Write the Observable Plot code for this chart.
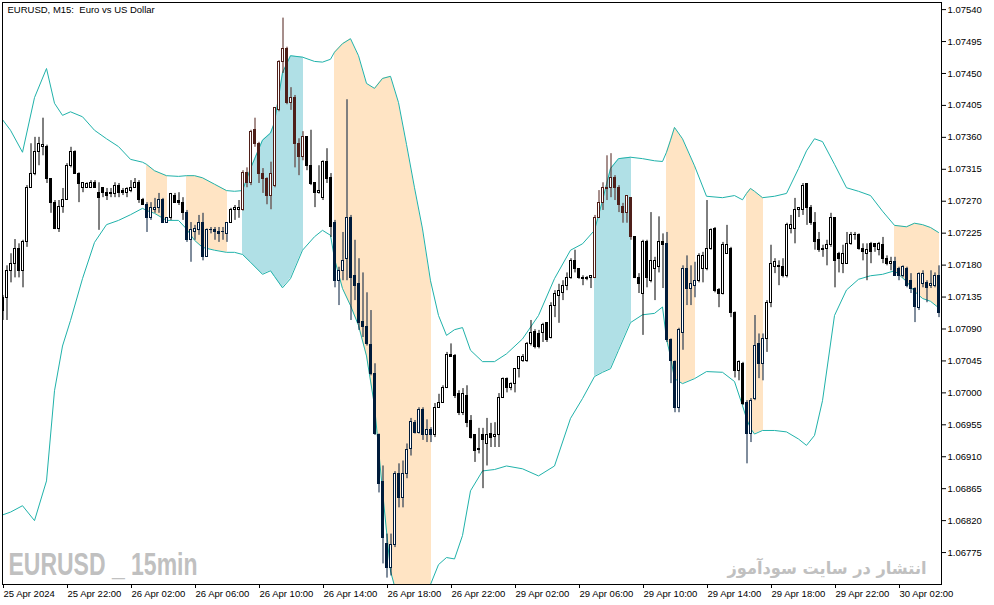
<!DOCTYPE html>
<html><head><meta charset="utf-8">
<script src="https://cdn.jsdelivr.net/npm/d3@7"></script>
<script src="https://cdn.jsdelivr.net/npm/@observablehq/plot@0.6"></script>
<style>body{margin:0;background:#fff}</style>
</head><body><div id="chart"></div>
<script>
const open = [
1.07134,1.07133,1.07172,1.07182,1.07203,1.07172,1.07212,1.07289,1.07309,1.07339,
1.07346,1.07347,1.07302,1.07268,1.07231,1.07262,1.07272,1.07320,1.07340,1.07309,
1.07289,1.07289,1.07289,1.07296,1.07282,1.07288,1.07281,1.07281,1.07280,1.07292,
1.07284,1.07281,1.07284,1.07289,1.07296,1.07272,1.07265,1.07246,1.07258,1.07261,
1.07272,1.07240,1.07246,1.07278,1.07270,1.07268,1.07254,1.07215,1.07227,1.07230,
1.07239,1.07192,1.07230,1.07230,1.07226,1.07227,1.07224,1.07239,1.07257,1.07258,
1.07257,1.07310,1.07295,1.07370,1.07351,1.07309,1.07302,1.07278,1.07292,1.07398,
1.07466,1.07485,1.07409,1.07416,1.07351,1.07332,1.07360,1.07319,1.07295,1.07281,
1.07274,1.07325,1.07303,1.07240,1.07158,1.07172,1.07189,1.07247,1.07165,1.07154,
1.07100,1.07093,1.07068,1.07027,1.06941,1.06875,1.06787,1.06753,1.06785,1.06886,
1.06852,1.06886,1.06921,1.06957,1.06944,1.06976,1.06940,1.06948,1.06940,1.06979,
1.06986,1.07007,1.07054,1.07052,1.06999,1.06971,1.06995,1.06961,1.06940,1.06921,
1.06940,1.06928,1.06942,1.06938,1.06940,1.06993,1.07020,1.07007,1.07013,1.07034,
1.07045,1.07045,1.07069,1.07086,1.07083,1.07085,1.07098,1.07078,1.07123,1.07137,
1.07141,1.07150,1.07162,1.07186,1.07174,1.07162,1.07160,1.07162,1.07162,1.07247,
1.07268,1.07287,1.07289,1.07303,1.07289,1.07262,1.07253,1.07274,1.07219,1.07162,
1.07140,1.07212,1.07158,1.07175,1.07177,1.07212,1.07210,1.07074,1.07043,1.06978,
1.07085,1.07174,1.07147,1.07151,1.07158,1.07175,1.07175,1.07203,1.07231,1.07145,
1.07140,1.07196,1.07203,1.07112,1.07031,1.07041,1.06986,1.06942,1.06992,1.07069,
1.07041,1.07076,1.07127,1.07177,1.07179,1.07177,1.07164,1.07231,1.07231,1.07257,
1.07257,1.07294,1.07261,1.07239,1.07215,1.07201,1.07203,1.07208,1.07246,1.07195,
1.07182,1.07182,1.07210,1.07222,1.07223,1.07203,1.07196,1.07210,1.07210,1.07201,
1.07208,1.07188,1.07182,1.07184,1.07175,1.07165,1.07175,1.07158,1.07147,1.07120,
1.07154,1.07155,1.07151,1.07151,1.07165];
const high = [
1.07137,1.07179,1.07196,1.07216,1.07210,1.07215,1.07292,1.07351,1.07360,1.07360,
1.07387,1.07349,1.07302,1.07271,1.07271,1.07288,1.07323,1.07346,1.07341,1.07310,
1.07296,1.07296,1.07299,1.07299,1.07296,1.07289,1.07288,1.07288,1.07296,1.07295,
1.07288,1.07289,1.07299,1.07302,1.07299,1.07274,1.07268,1.07268,1.07274,1.07281,
1.07274,1.07247,1.07281,1.07281,1.07282,1.07275,1.07257,1.07240,1.07236,1.07250,
1.07253,1.07231,1.07233,1.07233,1.07233,1.07233,1.07240,1.07260,1.07264,1.07271,
1.07313,1.07317,1.07370,1.07387,1.07353,1.07316,1.07303,1.07325,1.07402,1.07468,
1.07528,1.07487,1.07430,1.07419,1.07358,1.07368,1.07361,1.07370,1.07296,1.07320,
1.07327,1.07344,1.07309,1.07243,1.07177,1.07226,1.07413,1.07250,1.07215,1.07189,
1.07169,1.07141,1.07116,1.07041,1.06942,1.06897,1.06801,1.06801,1.06889,1.06900,
1.06904,1.06928,1.06964,1.06961,1.06979,1.06979,1.06962,1.06951,1.06985,1.06998,
1.07010,1.07057,1.07069,1.07054,1.07003,1.07006,1.07010,1.06968,1.06940,1.06950,
1.06950,1.06964,1.06957,1.06958,1.06999,1.07021,1.07021,1.07014,1.07034,1.07051,
1.07054,1.07071,1.07102,1.07089,1.07088,1.07098,1.07099,1.07127,1.07144,1.07153,
1.07158,1.07169,1.07189,1.07201,1.07175,1.07165,1.07164,1.07165,1.07250,1.07285,
1.07296,1.07334,1.07337,1.07306,1.07292,1.07267,1.07278,1.07275,1.07219,1.07168,
1.07215,1.07215,1.07254,1.07191,1.07248,1.07224,1.07226,1.07076,1.07045,1.07091,
1.07179,1.07193,1.07179,1.07184,1.07196,1.07198,1.07271,1.07231,1.07233,1.07147,
1.07212,1.07236,1.07205,1.07114,1.07045,1.07043,1.06989,1.06992,1.07109,1.07083,
1.07083,1.07130,1.07208,1.07189,1.07186,1.07189,1.07239,1.07250,1.07274,1.07261,
1.07295,1.07295,1.07264,1.07254,1.07226,1.07208,1.07215,1.07253,1.07247,1.07198,
1.07208,1.07226,1.07226,1.07226,1.07224,1.07210,1.07210,1.07212,1.07210,1.07212,
1.07219,1.07193,1.07191,1.07191,1.07177,1.07179,1.07177,1.07168,1.07148,1.07169,
1.07172,1.07158,1.07172,1.07169,1.07179];
const low = [
1.07102,1.07102,1.07155,1.07162,1.07162,1.07148,1.07205,1.07288,1.07306,1.07320,
1.07334,1.07295,1.07253,1.07230,1.07226,1.07253,1.07271,1.07317,1.07308,1.07268,
1.07282,1.07288,1.07288,1.07288,1.07229,1.07275,1.07271,1.07275,1.07275,1.07275,
1.07278,1.07275,1.07282,1.07288,1.07267,1.07264,1.07226,1.07243,1.07253,1.07253,
1.07239,1.07240,1.07243,1.07267,1.07264,1.07243,1.07212,1.07184,1.07215,1.07222,
1.07186,1.07191,1.07224,1.07215,1.07212,1.07215,1.07212,1.07239,1.07243,1.07246,
1.07256,1.07289,1.07292,1.07346,1.07295,1.07281,1.07265,1.07258,1.07289,1.07396,
1.07450,1.07406,1.07398,1.07317,1.07306,1.07327,1.07313,1.07292,1.07261,1.07280,
1.07271,1.07295,1.07219,1.07148,1.07123,1.07158,1.07158,1.07102,1.07130,1.07088,
1.07078,1.07066,1.07024,1.06940,1.06859,1.06759,1.06739,1.06742,1.06782,1.06838,
1.06838,1.06879,1.06911,1.06942,1.06942,1.06933,1.06930,1.06930,1.06937,1.06978,
1.06985,1.07006,1.07050,1.06992,1.06968,1.06968,1.06951,1.06935,1.06902,1.06914,
1.06865,1.06897,1.06923,1.06923,1.06923,1.06992,1.07000,1.07003,1.07000,1.07021,
1.07043,1.07043,1.07066,1.07062,1.07062,1.07071,1.07071,1.07076,1.07106,1.07098,
1.07130,1.07144,1.07160,1.07169,1.07160,1.07151,1.07158,1.07147,1.07161,1.07246,
1.07257,1.07271,1.07275,1.07271,1.07254,1.07239,1.07239,1.07215,1.07161,1.07140,
1.07081,1.07148,1.07155,1.07130,1.07169,1.07147,1.07071,1.07013,1.06972,1.06972,
1.07060,1.07123,1.07123,1.07134,1.07155,1.07155,1.07172,1.07201,1.07141,1.07120,
1.07138,1.07195,1.07106,1.07021,1.07017,1.06982,1.06900,1.06930,1.06989,1.07020,
1.07017,1.07057,1.07120,1.07168,1.07151,1.07162,1.07162,1.07224,1.07210,1.07247,
1.07250,1.07236,1.07236,1.07201,1.07198,1.07191,1.07179,1.07205,1.07148,1.07169,
1.07168,1.07182,1.07208,1.07215,1.07201,1.07186,1.07158,1.07182,1.07198,1.07193,
1.07182,1.07179,1.07172,1.07165,1.07158,1.07162,1.07148,1.07140,1.07099,1.07116,
1.07148,1.07127,1.07147,1.07148,1.07106];
const close = [
1.07116,1.07172,1.07182,1.07203,1.07172,1.07212,1.07289,1.07309,1.07339,1.07351,
1.07349,1.07302,1.07268,1.07231,1.07262,1.07272,1.07320,1.07340,1.07309,1.07294,
1.07295,1.07294,1.07296,1.07289,1.07275,1.07281,1.07278,1.07280,1.07292,1.07281,
1.07281,1.07287,1.07289,1.07296,1.07272,1.07265,1.07246,1.07261,1.07261,1.07272,
1.07240,1.07246,1.07280,1.07268,1.07267,1.07254,1.07215,1.07229,1.07231,1.07239,
1.07192,1.07230,1.07229,1.07227,1.07224,1.07226,1.07239,1.07257,1.07260,1.07261,
1.07310,1.07296,1.07367,1.07351,1.07308,1.07302,1.07278,1.07309,1.07401,1.07466,
1.07485,1.07409,1.07416,1.07351,1.07332,1.07360,1.07320,1.07294,1.07281,1.07285,
1.07325,1.07302,1.07233,1.07158,1.07172,1.07186,1.07247,1.07162,1.07151,1.07099,
1.07093,1.07069,1.07027,1.06942,1.06872,1.06796,1.06753,1.06785,1.06886,1.06852,
1.06886,1.06920,1.06959,1.06944,1.06976,1.06940,1.06948,1.06940,1.06979,1.06986,
1.07007,1.07054,1.07051,1.06996,1.06971,1.06998,1.06958,1.06937,1.06918,1.06920,
1.06933,1.06940,1.06937,1.06940,1.06993,1.07020,1.07007,1.07013,1.07033,1.07050,
1.07050,1.07069,1.07085,1.07064,1.07065,1.07095,1.07074,1.07123,1.07140,1.07144,
1.07150,1.07162,1.07186,1.07174,1.07162,1.07160,1.07162,1.07164,1.07247,1.07267,
1.07288,1.07289,1.07303,1.07289,1.07264,1.07254,1.07277,1.07219,1.07162,1.07153,
1.07213,1.07162,1.07186,1.07186,1.07212,1.07209,1.07074,1.07045,1.06978,1.07088,
1.07174,1.07147,1.07154,1.07158,1.07193,1.07193,1.07203,1.07230,1.07144,1.07140,
1.07208,1.07208,1.07112,1.07031,1.07043,1.06985,1.06942,1.06989,1.07066,1.07041,
1.07076,1.07127,1.07182,1.07184,1.07177,1.07164,1.07236,1.07236,1.07258,1.07260,
1.07292,1.07260,1.07240,1.07213,1.07201,1.07203,1.07208,1.07246,1.07186,1.07188,
1.07195,1.07210,1.07222,1.07223,1.07203,1.07199,1.07201,1.07199,1.07205,1.07210,
1.07188,1.07182,1.07184,1.07165,1.07164,1.07178,1.07151,1.07147,1.07121,1.07168,
1.07167,1.07148,1.07154,1.07165,1.07112];

// Bollinger band knots (bar index)
const bandIdx = [0,2,5,8,11,13,15,17,20,23,26,29,32,35,36,38,41,44,46,48,50,53,56,58,60,62,65,67,68,70,72,75,78,80,82,83,85,87,89,91,93,95,97,99,101,103,105,107,109,111,113,115,117,120,123,126,130,134,138,142,145,148,150,152,154,157,160,163,165,166,167,168,170,173,176,180,183,185,186,187,188,190,193,196,199,201,203,205,208,211,214,217,220,223,226,228,230,232,234];
const upperBand = [1.07385,1.07370,1.07339,1.07416,1.07457,1.07408,1.07391,1.07396,1.07389,1.07370,
1.07358,1.07347,1.07329,1.07325,1.07322,1.07313,1.07306,1.07305,1.07306,1.07306,
1.07303,1.07294,1.07285,1.07284,1.07285,1.07316,1.07356,1.07366,1.07381,1.07451,
1.07475,1.07473,1.07467,1.07466,1.07470,1.07480,1.07492,1.07499,1.07475,1.07436,
1.07429,1.07443,1.07446,1.07409,1.07350,1.07289,1.07231,1.07158,1.07109,1.07081,
1.07089,1.07092,1.07060,1.07044,1.07044,1.07055,1.07076,1.07109,1.07161,1.07201,
1.07210,1.07229,1.07271,1.07316,1.07330,1.07332,1.07330,1.07327,1.07326,1.07339,
1.07356,1.07374,1.07358,1.07320,1.07277,1.07275,1.07278,1.07272,1.07281,1.07288,
1.07284,1.07275,1.07277,1.07281,1.07316,1.07341,1.07358,1.07354,1.07322,1.07289,
1.07284,1.07278,1.07256,1.07236,1.07234,1.07239,1.07237,1.07233,1.07226];
const lowerBand = [1.06828,1.06832,1.06841,1.06820,1.06876,1.07003,1.07066,1.07102,1.07161,1.07212,
1.07237,1.07243,1.07251,1.07260,1.07257,1.07253,1.07243,1.07243,1.07231,1.07215,
1.07205,1.07201,1.07198,1.07198,1.07195,1.07184,1.07167,1.07172,1.07164,1.07148,
1.07161,1.07201,1.07220,1.07229,1.07222,1.07189,1.07147,1.07123,1.07095,1.07052,
1.06982,1.06862,1.06749,1.06707,1.06686,1.06679,1.06700,1.06730,1.06758,1.06768,
1.06766,1.06799,1.06862,1.06890,1.06892,1.06897,1.06893,1.06883,1.06897,1.06964,
1.06992,1.07023,1.07029,1.07034,1.07060,1.07099,1.07110,1.07112,1.07121,1.07076,
1.07051,1.07020,1.07013,1.07020,1.07030,1.07029,1.07016,1.06982,1.06964,1.06950,
1.06942,1.06947,1.06947,1.06945,1.06935,1.06926,1.06940,1.06989,1.07109,1.07145,
1.07160,1.07165,1.07167,1.07172,1.07157,1.07143,1.07133,1.07129,1.07120];

// shaded zones (bar index ranges)
const shadeStart = [36,46,60,83,148,166,186,223];
const shadeEnd   = [41,56,75,107,157,173,190,234];
const shadeKind  = ["sell","sell","buy","sell","buy","sell","sell","sell"];

const yTicks = [1.07540,1.07495,1.07450,1.07405,1.07360,1.07315,1.07270,1.07225,1.07180,1.07135,1.07090,1.07045,1.07000,1.06955,1.06910,1.06865,1.06820,1.06775];
const xTickIdx = [0,16,32,48,64,80,96,112,128,144,160,176,192,208,224];
const xTickLabels = ["25 Apr 2024","25 Apr 22:00","26 Apr 02:00","26 Apr 06:00","26 Apr 10:00","26 Apr 14:00","26 Apr 18:00","26 Apr 22:00","29 Apr 02:00","29 Apr 06:00","29 Apr 10:00","29 Apr 14:00","29 Apr 18:00","29 Apr 22:00","30 Apr 02:00"];

const titleText = "EURUSD, M15:  Euro vs US Dollar";
const markText = "EURUSD _ 15min";
const siteText = "انتشار در سایت سودآموز";

const shadeFill = {sell:"#FFE4C4", buy:"#B0E0E6"};
const shadeInk = {sell:"#001B3B", buy:"#4F1F19"};

function regionOf(i){
  for (let k=0;k<shadeStart.length;k++) if (i>=shadeStart[k] && i<=shadeEnd[k]) return shadeKind[k];
  return null;
}
const candles = open.map((o,i)=>{
  const r = regionOf(i);
  const col = r ? shadeInk[r] : "#000000";
  const up = close[i] >= o;
  return {i, o, h: high[i], l: low[i], c: close[i], col, fillc: up ? "#ffffff" : col};
});
const bands = bandIdx.map((x,k)=>({x, u: upperBand[k], lo: lowerBand[k]}));
const shades = [];
shadeStart.forEach((s,k)=>{
  const e = shadeEnd[k];
  const pts = bands.filter(b=>b.x>=s && b.x<=e);
  const last = pts[pts.length-1];
  pts.forEach(p=>shades.push({x:p.x, u:p.u, lo:p.lo, g:k, kind:shadeKind[k]}));
  shades.push({x:e+0.25, u:last.u, lo:last.lo, g:k, kind:shadeKind[k]});
});

const chart = Plot.plot({
  width: 994, height: 605,
  marginLeft: 2, marginRight: 53, marginTop: 2, marginBottom: 21,
  x: {domain: [0, 234.75], axis: null},
  y: {domain: [1.06730, 1.07550], axis: null},
  color: {type: "identity"},
  style: {fontFamily: "'Liberation Sans', Arial, sans-serif", fontSize: "9.5px", background: "#fff", color: "#000"},
  marks: [
    Plot.areaY(shades.filter(d=>d.kind==="sell"), {x:"x", y1:"lo", y2:"u", z:"g", fill: shadeFill.sell, clip: true}),
    Plot.areaY(shades.filter(d=>d.kind==="buy"), {x:"x", y1:"lo", y2:"u", z:"g", fill: shadeFill.buy, clip: true}),
    Plot.line(bands, {x:"x", y:"u", stroke:"#20B2AA", strokeWidth:1, clip: true}),
    Plot.line(bands, {x:"x", y:"lo", stroke:"#20B2AA", strokeWidth:1, clip: true}),
    Plot.ruleX(candles, {x:"i", y1:"l", y2:"h", stroke:"col", strokeWidth:1, dx:0.5, clip: true}),
    Plot.rect(candles, {x1: d=>d.i-0.25, x2: d=>d.i+0.25, y1:"o", y2:"c", fill:"fillc", stroke:"col", strokeWidth:1, dx:0.5, shapeRendering:"crispEdges", clip: true}),
    Plot.frame({stroke:"#000", shapeRendering:"crispEdges"}),
    Plot.axisY(yTicks, {anchor:"right", tickSize:4, tickPadding:2, tickFormat: d=>d.toFixed(5), fontSize: 9.5, label: null}),
    Plot.axisX(xTickIdx, {anchor:"bottom", tickSize:4, tickPadding:2, tickFormat: d=>xTickLabels[xTickIdx.indexOf(d)], textAnchor:"start", dx:1, fontSize: 9.5, label: null}),
    Plot.text([titleText], {text: d=>d, frameAnchor:"top-left", dx:5, dy:4, textAnchor:"start", lineAnchor:"top", fontSize:9.5, fill:"#000"}),
    Plot.text([markText], {text: d=>d, frameAnchor:"bottom-left", dx:6, dy:-10, textAnchor:"start", lineAnchor:"bottom", fontSize:31, fontWeight:"bold", fill:"#C0C0C0", fontFamily:"'Liberation Sans Narrow', 'Liberation Sans', sans-serif"}),
    Plot.text([siteText], {text: d=>d, frameAnchor:"bottom-left", dx:725, dy:-11, textAnchor:"start", lineAnchor:"bottom", fontSize:17, fontWeight:"bold", fill:"#C0C0C0", fontFamily:"'DejaVu Sans', sans-serif"})
  ]
});
document.getElementById("chart").appendChild(chart);
// fit watermark widths to the reference
d3.select(chart).selectAll("text").each(function(){
  const t = this.textContent;
  if (t === markText) this.setAttribute("textLength", "189"), this.setAttribute("lengthAdjust", "spacingAndGlyphs");
  if (t === siteText) this.setAttribute("textLength", "199"), this.setAttribute("lengthAdjust", "spacingAndGlyphs");
});
</script>
</body></html>
